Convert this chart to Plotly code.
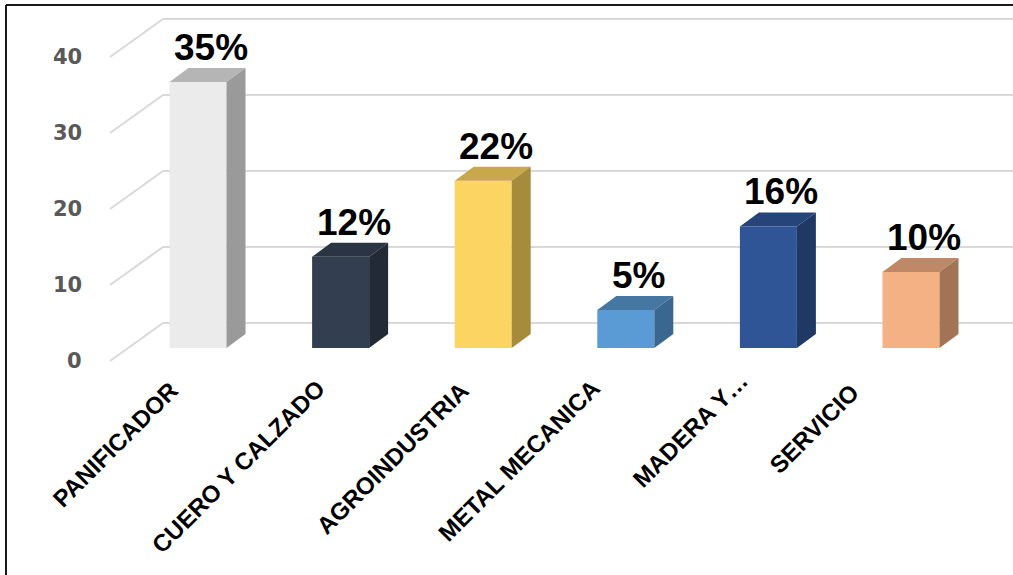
import plotly.graph_objects as go

# --- data -------------------------------------------------------------
categories = ["PANIFICADOR", "CUERO Y CALZADO", "AGROINDUSTRIA",
              "METAL MECANICA", "MADERA Y…", "SERVICIO"]
values = [35, 12, 22, 5, 16, 10]
y_ticks = [0, 10, 20, 30, 40]

# --- styling ----------------------------------------------------------
front_colors = ["#EBEBEB", "#333F50", "#FCD462", "#5B9BD5", "#2F5597", "#F4B183"]
top_colors = ["#B5B5B5", "#2A3442", "#C9A84C", "#4677A3", "#25457A", "#BF8866"]
side_colors = ["#9A9A9A", "#222A36", "#A68B3D", "#3A6790", "#1F3864", "#A27456"]

W, H = 1013, 575
X0_PX, STEP_PX = 198.0, 142.6     # pixel of first category centre, spacing
Y0_PX, UNIT_PX = 348.0, 7.6       # pixel of value 0 on the bar front, px per unit


def xd(px):
    return (px - X0_PX) / STEP_PX


def yd(py):
    return (Y0_PX - py) / UNIT_PX


BAR_W = 57 / STEP_PX
DX = 19 / STEP_PX          # depth of a bar, horizontal part
DY = 14 / UNIT_PX          # depth of a bar, vertical part
WALL_DY = 25 / UNIT_PX     # back wall lies this far "up" from the bar fronts
DIAG_DY = 38 / UNIT_PX     # side-wall gridline drop towards the viewer

# per-label nudges of the rotated category labels (px)
label_dx = [-12, -8, -7, -18, -12, -44]
label_dy = [0, -2, 0, -2, -10, 2]

idx = list(range(len(categories)))

fig = go.Figure()

# front faces
fig.add_trace(go.Bar(
    x=idx, y=values, width=BAR_W,
    marker=dict(color=front_colors, line=dict(width=0)),
    hoverinfo="skip", showlegend=False,
))

# top and side faces
for i, v in enumerate(values):
    x0, x1 = i - BAR_W / 2, i + BAR_W / 2
    fig.add_trace(go.Scatter(
        x=[x0, x1, x1 + DX, x0 + DX, x0],
        y=[v, v, v + DY, v + DY, v],
        mode="lines", fill="toself", fillcolor=top_colors[i],
        line=dict(width=0, color=top_colors[i]),
        hoverinfo="skip", showlegend=False,
    ))
    fig.add_trace(go.Scatter(
        x=[x1, x1, x1 + DX, x1 + DX, x1],
        y=[0, v, v + DY, DY, 0],
        mode="lines", fill="toself", fillcolor=side_colors[i],
        line=dict(width=0, color=side_colors[i]),
        hoverinfo="skip", showlegend=False,
    ))

shapes = []
annotations = []

# back-wall and side-wall gridlines
for t in y_ticks:
    yb = t + WALL_DY
    shapes.append(dict(type="line", xref="x", yref="y", layer="below",
                       x0=xd(163), x1=xd(W), y0=yb, y1=yb,
                       line=dict(color="#D9D9D9", width=2)))
    shapes.append(dict(type="line", xref="x", yref="y", layer="below",
                       x0=xd(110), x1=xd(163), y0=yb - DIAG_DY, y1=yb,
                       line=dict(color="#D9D9D9", width=2)))
    annotations.append(dict(
        x=xd(84), y=yb - DIAG_DY, xref="x", yref="y",
        text=f"<b>{t}</b>", showarrow=False, xanchor="right", yanchor="middle",
        font=dict(family="DejaVu Sans", size=21, color="#595959"),
    ))

# value labels
for i, v in enumerate(values):
    annotations.append(dict(
        x=i + xd(X0_PX + 13), y=v + DY, xref="x", yref="y",
        text=f"<b>{v}%</b>", showarrow=False, xanchor="center", yanchor="bottom",
        yshift=-2,
        font=dict(family="Liberation Sans", size=37, color="#000000"),
    ))

# rotated category labels
for i, name in enumerate(categories):
    annotations.append(dict(
        x=i + label_dx[i] / STEP_PX, y=yd(374 + label_dy[i]), xref="x", yref="y",
        text=f"<b>{name}</b>", showarrow=False, textangle=-45,
        xanchor="right", yanchor="top",
        font=dict(family="Liberation Sans", size=24, color="#000000"),
    ))

# frame
shapes.append(dict(type="line", xref="paper", yref="paper",
                   x0=6 / W, x1=1, y0=1 - 5 / H, y1=1 - 5 / H,
                   line=dict(color="#1A1A1A", width=2)))
shapes.append(dict(type="line", xref="paper", yref="paper",
                   x0=6 / W, x1=6 / W, y0=0, y1=1 - 5 / H,
                   line=dict(color="#1A1A1A", width=2)))

fig.update_layout(
    width=W, height=H,
    margin=dict(l=0, r=0, t=0, b=0),
    paper_bgcolor="white", plot_bgcolor="white",
    xaxis=dict(range=[xd(0), xd(W)], visible=False, fixedrange=True),
    yaxis=dict(range=[yd(H), yd(0)], visible=False, fixedrange=True),
    shapes=shapes, annotations=annotations,
    hovermode=False,
)

fig.write_html("out.html")
